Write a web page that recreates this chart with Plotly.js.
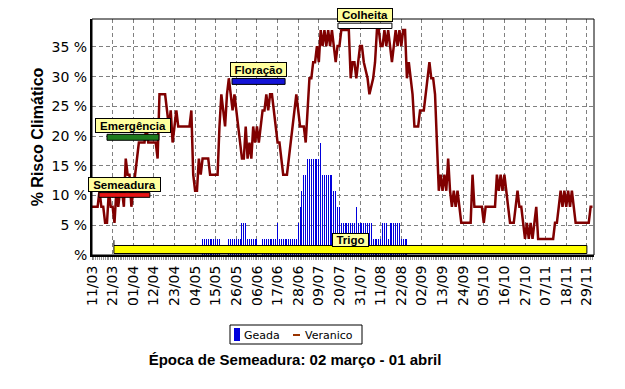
<!DOCTYPE html>
<html><head><meta charset="utf-8">
<script src="https://cdn.plot.ly/plotly-3.0.1.min.js"></script>
<style>html,body{margin:0;padding:0;background:#fff}#chart{width:625px;height:389px}</style>
</head><body><div id="chart"></div>
<script>
// ---- data ----
const tickDias = [0,11,22,33,44,55,66,77,88,99,110,121,132,143,154,165,176,187,198,209,220,231,242,253,264];
const tickRotulos = ['11/03','21/03','01/04','12/04','23/04','04/05','15/05','26/05','06/06','17/06','28/06','09/07','20/07','31/07','11/08','22/08','02/09','13/09','24/09','05/10','16/10','27/10','07/11','18/11','29/11'];
const yTicks = [0,5,10,15,20,25,30,35];
const yRotulos = ['%','5 %','10 %','15 %','20 %','25 %','30 %','35 %'];

const geadaDia = [59,60,61,62,63,64,65,66,67,68,
  73,74,75,76,77,78,79,80,81,82,83,84,85,86,87,88,
  91,92,93,94,95,96,97,98,99,100,101,102,103,104,105,106,107,108,109,
  110,111,112,113,114,115,116,117,118,119,120,121,122,
  123,124,125,126,127,128,129,130,131,132,
  133,134,135,136,137,138,139,140,141,142,143,144,145,146,147,148,149,
  150,151,152,153,154,155,156,157,158,159,160,161,162,163,164,165,166,167,168];
const geadaPct = [2.70,2.70,2.70,2.70,2.70,2.70,2.70,2.70,2.70,2.70,
  2.70,2.70,2.70,2.70,2.70,2.70,2.70,5.41,5.41,5.41,2.70,2.70,2.70,2.70,2.70,2.70,
  2.70,2.70,2.70,2.70,2.70,2.70,2.70,2.70,5.41,2.70,2.70,2.70,2.70,2.70,2.70,2.70,2.70,2.70,2.70,
  5.41,8.11,10.81,13.51,13.51,16.22,16.22,16.22,16.22,16.22,16.22,16.22,18.92,
  13.51,13.51,13.51,13.51,13.51,13.51,10.81,10.81,8.11,8.11,
  5.41,5.41,5.41,5.41,5.41,5.41,5.41,5.41,8.11,5.41,5.41,5.41,5.41,5.41,5.41,5.41,5.41,
  2.70,2.70,2.70,2.70,2.70,5.41,5.41,5.41,2.70,5.41,5.41,5.41,5.41,5.41,5.41,2.70,2.70,2.70,2.70];

const verDia = [0,3,4,5,6,7,8,9,10,11,12,13,14,15,16,17,18,19,20,21,22,23,24,25,28,29,30,34,35,36,39,40,41,42,43,44,45,46,52,53,54,55,56,57,58,59,62,63,67,68,69,70,71,72,73,74,75,76,77,78,79,80,81,82,83,84,85,86,87,88,89,90,91,92,93,94,95,96,97,98,99,100,101,102,104,105,106,107,108,109,110,111,113,114,115,116,117,118,119,120,121,122,123,124,125,126,127,128,129,130,131,132,133,137,138,139,140,141,142,143,144,145,147,148,150,151,152,153,154,155,156,157,158,159,160,161,162,163,164,165,166,167,168,169,170,171,172,174,175,177,178,179,180,181,182,183,184,185,186,187,188,189,190,191,192,193,194,195,196,197,202,203,204,208,209,210,215,216,217,218,219,220,221,222,223,225,226,227,228,229,230,231,232,233,234,235,236,237,238,246,247,248,249,250,251,252,253,254,255,256,257,258,265,266,267];
const verPct = [8.11,8.11,10.81,8.11,8.11,5.41,5.41,10.81,8.11,8.11,5.41,10.81,8.11,10.81,10.81,8.11,16.22,13.51,13.51,8.11,10.81,13.51,16.22,18.92,18.92,21.62,18.92,18.92,16.22,27.03,27.03,24.32,21.62,24.32,18.92,21.62,24.32,21.62,21.62,24.32,13.51,10.81,10.81,16.22,13.51,16.22,16.22,13.51,13.51,21.62,27.03,24.32,21.62,27.03,29.73,27.03,24.32,27.03,24.32,21.62,18.92,16.22,16.22,21.62,16.22,18.92,16.22,21.62,18.92,21.62,18.92,21.62,24.32,24.32,27.03,24.32,27.03,27.03,24.32,21.62,18.92,18.92,16.22,13.51,13.51,16.22,18.92,21.62,24.32,27.03,24.32,21.62,21.62,18.92,24.32,29.73,29.73,32.43,32.43,35.14,32.43,37.84,35.14,37.84,35.14,37.84,35.14,37.84,35.14,32.43,35.14,35.14,37.84,37.84,29.73,32.43,32.43,29.73,32.43,35.14,35.14,32.43,29.73,27.03,29.73,32.43,37.84,37.84,35.14,35.14,37.84,35.14,37.84,35.14,32.43,35.14,37.84,35.14,37.84,35.14,37.84,37.84,29.73,32.43,29.73,27.03,21.62,21.62,24.32,24.32,27.03,29.73,32.43,29.73,29.73,27.03,18.92,10.81,13.51,10.81,13.51,10.81,16.22,10.81,8.11,10.81,8.11,10.81,8.11,5.41,5.41,13.51,8.11,8.11,5.41,8.11,8.11,13.51,10.81,13.51,10.81,13.51,10.81,8.11,5.41,5.41,8.11,10.81,8.11,8.11,5.41,2.70,5.41,2.70,5.41,2.70,5.41,8.11,2.70,2.70,5.41,5.41,8.11,10.81,8.11,10.81,8.11,10.81,8.11,10.81,8.11,5.41,5.41,8.11,8.11];

const fases = ['Semeadura','Emergência','Floração','Colheita'];
const faseIni = [3.7, 8.0, 74.7, 131.2];
const faseFim = [30.9, 35.7, 103.0, 160.0];
const cultura = 'Trigo';
const cicloIni = 11.7, cicloFim = 264.0;

// ---- styles / layout helpers ----
const L = 92, R = 594, T = 19, B = 255;
const px = x => (x - L) / (R - L);
const py = y => (B - y) / (B - T);
const faseCor = ['#E81414', '#1E7B1E', '#1414D8', '#FFFFFF'];
const faseY = [[9.7,10.5],[19.3,20.3],[28.7,29.7],[38.1,39.0]];
const faseBox = [[73,15],[76,15],[57,15],[56,14]];
const boldFont = {family:'Liberation Sans, Arial, sans-serif', size:11.5, color:'#000', weight:'bold'};

const shapes = [];
const annotations = [];
fases.forEach((f, i) => {
  shapes.push({type:'rect', xref:'x', yref:'y', x0:faseIni[i], x1:faseFim[i], y0:faseY[i][0], y1:faseY[i][1],
    fillcolor:faseCor[i], line:{color:'#000', width:1}});
  annotations.push({xref:'x', yref:'y', x:(faseIni[i]+faseFim[i])/2, y:faseY[i][1], yanchor:'bottom', xanchor:'center',
    text:f, showarrow:false, font:boldFont, bgcolor:'#FFFF9E', bordercolor:'#000', borderwidth:1, borderpad:0,
    width:faseBox[i][0]-2, height:faseBox[i][1]-2, yshift:1});
});
// crop cycle bar
shapes.push({type:'rect', xref:'x', yref:'y', x0:cicloIni, x1:cicloFim, y0:0.25, y1:1.6, fillcolor:'#FFFF00', line:{color:'#000', width:1}});
shapes.push({type:'line', xref:'x', yref:'y', x0:cicloIni, x1:cicloIni, y0:1.6, y1:2.5, line:{color:'#000', width:1}});
annotations.push({xref:'x', yref:'y', x:(cicloIni+cicloFim)/2 + 0.3, y:2.47, xanchor:'center', yanchor:'middle', text:cultura,
  showarrow:false, font:boldFont, bgcolor:'#FFFF9E', bordercolor:'#000', borderwidth:1, borderpad:0, width:35, height:12});
// plot border (top/right)
shapes.push({type:'rect', xref:'paper', yref:'paper', x0:0, x1:1, y0:0, y1:1, line:{color:'#000', width:1}, layer:'above'});
// legend
shapes.push({type:'rect', xref:'paper', yref:'paper', x0:px(230), x1:px(362), y0:py(344), y1:py(325), line:{color:'#000', width:1}, fillcolor:'#fff'});
shapes.push({type:'rect', xref:'paper', yref:'paper', x0:px(234), x1:px(240), y0:py(341), y1:py(328), line:{width:0}, fillcolor:'#0000DD'});
shapes.push({type:'line', xref:'paper', yref:'paper', x0:px(293), x1:px(300), y0:py(335), y1:py(335), line:{color:'#993300', width:2}});
const legFont = {family:'DejaVu Sans, sans-serif', size:11, color:'#000'};
annotations.push({xref:'paper', yref:'paper', x:px(242), y:py(335), xanchor:'left', yanchor:'middle', text:'Geada', showarrow:false, font:legFont});
annotations.push({xref:'paper', yref:'paper', x:px(303), y:py(335), xanchor:'left', yanchor:'middle', text:'Veranico', showarrow:false, font:legFont});

const tickFont = {family:'DejaVu Sans, sans-serif', size:14, color:'#000'};

const traces = [
  {type:'bar', name:'Geada', x:geadaDia, y:geadaPct, width:0.55, marker:{color:'#0000DD', line:{width:0}}, showlegend:false, hoverinfo:'skip'},
  {type:'scatter', mode:'lines', name:'Veranico', x:verDia, y:verPct, line:{color:'#800000', width:2.5}, showlegend:false, hoverinfo:'skip'}
];

const layout = {
  width:625, height:389,
  margin:{l:L, r:625-R, t:T, b:389-B, pad:0},
  paper_bgcolor:'#fff', plot_bgcolor:'#fff',
  showlegend:false,
  bargap:0,
  title:{text:'Época de Semeadura: 02 março - 01 abril', font:{family:'Liberation Sans, Arial, sans-serif', size:15, color:'#000', weight:'bold'},
    xref:'container', yref:'container', x:295/625, xanchor:'center', y:1-360/389, yanchor:'middle'},
  xaxis:{range:[0,267.8], tickmode:'array', tickvals:tickDias, ticktext:tickRotulos, tickangle:-90, tickfont:tickFont,
    showgrid:true, gridcolor:'#808080', griddash:'4px,3px', gridwidth:1,
    showline:true, linecolor:'#000', linewidth:2, zeroline:false,
    ticks:'outside', ticklen:3, tickcolor:'#808080',
    minor:{ticks:'outside', ticklen:3, dtick:1, tick0:0, tickcolor:'#9a9a9a', showgrid:false},
    automargin:false, fixedrange:true},
  yaxis:{range:[0,39.7], tickmode:'array', tickvals:yTicks, ticktext:yRotulos, tickfont:tickFont,
    showgrid:true, gridcolor:'#808080', griddash:'4px,3px', gridwidth:1,
    showline:true, linecolor:'#000', linewidth:2, zeroline:false, ticks:'', 
    title:{text:'% Risco Climático', font:{family:'Liberation Sans, Arial, sans-serif', size:16, color:'#000', weight:'bold'}, standoff:4},
    automargin:false, fixedrange:true},
  shapes:shapes,
  annotations:annotations
};

Plotly.newPlot('chart', traces, layout, {displayModeBar:false, staticPlot:true});
</script>
</body></html>
